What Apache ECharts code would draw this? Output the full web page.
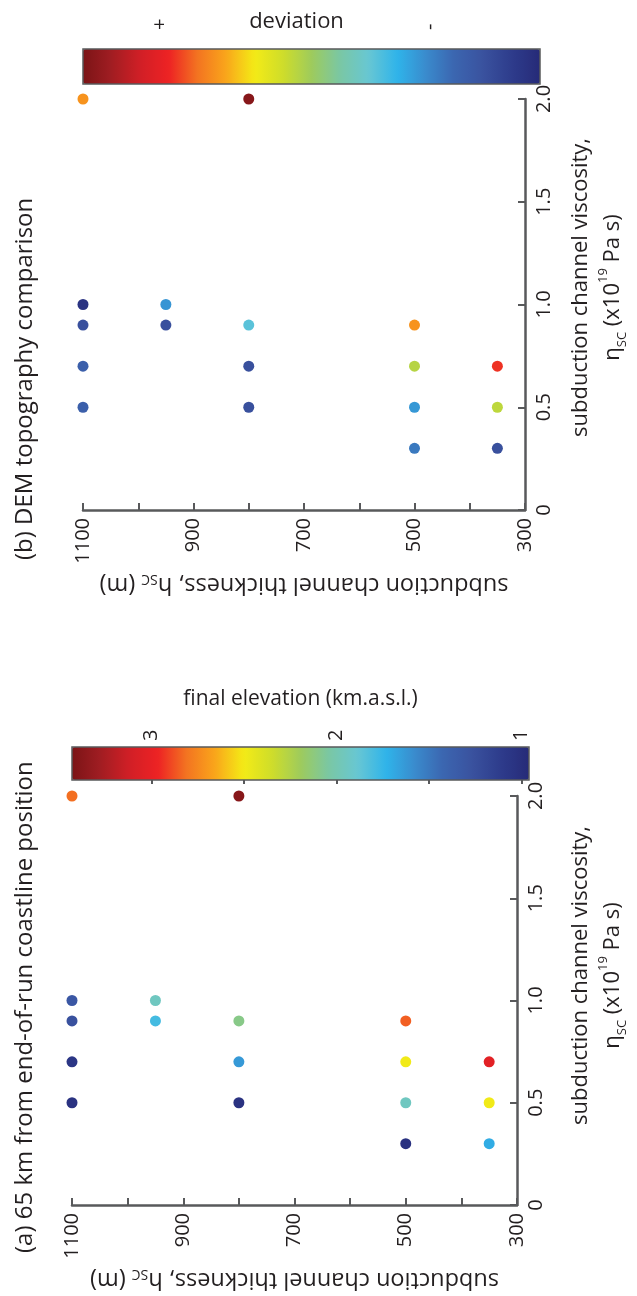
<!DOCTYPE html>
<html><head><meta charset="utf-8">
<script src="https://cdn.jsdelivr.net/npm/echarts@6/dist/echarts.min.js"></script>
<style>html,body{margin:0;padding:0;background:#fff}#c{width:637px;height:1296px}</style>
</head><body><div id="c"></div>
<script>
// ---- data ----
const thickness = [1100,1100,1100,1100,1100, 950,950, 800,800,800,800, 500,500,500,500, 350,350,350];
const viscosity = [0.5,0.7,0.9,1.0,2.0, 0.9,1.0, 0.5,0.7,0.9,2.0, 0.3,0.5,0.7,0.9, 0.3,0.5,0.7];
const elevationA = [1.03,1.06,1.26,1.31,2.82, 1.79,1.95, 1.03,1.63,2.10,3.38, 1.02,1.95,2.49,2.85, 1.70,2.49,3.03];
const deviationB = [16.5,16.5,12,3,71, 12,26.5, 12,12,36,98, 22,27,53,71, 12,54,80];
const thicknessLabels = [300,500,700,900,1100];
const elevationRange = [0.96, 3.43];
const elevationTickMarks = [1,1.5,2,2.5,3];
const elevationTickLabels = [1,2,3];
const deviationRange = [0, 100];
const deviationTickValues = [83, 24];
const deviationTickLabels = ['+', '-'];
const colormap = ['#262a78','#2e3c8c','#3a529f','#3b66b0','#3a8bcd','#2fb4ea','#68c7d3','#7ac7a4','#9ecb5c',
                  '#cfdd2a','#f4eb16','#f9a51b','#f37321','#ed2224','#d11f26','#a11d22','#7b1416'];

const FONT = "'Open Sans', sans-serif";
const TXT = '#231f20';
const AX = '#58595b';
const pts = (t, v, z) => t.map((x, i) => [x, v[i], z[i]]);

function thickAxis(gridIndex, nameGap) {
  return {
    type: 'value', gridIndex, min: 300, max: 1100, interval: 100, inverse: true, position: 'bottom',
    axisLine: { show: true, onZero: false, lineStyle: { color: AX, width: 2.5 } },
    axisTick: { show: true, inside: true, length: 7, lineStyle: { color: AX, width: 2 } },
    axisLabel: { customValues: thicknessLabels, rotate: 90, margin: 8, color: TXT, fontFamily: FONT, fontSize: 20,
      formatter: v => String(v) },
    splitLine: { show: false },
    name: 'subduction channel thickness, h{sub|SC} (m)', nameLocation: 'middle', nameRotate: 180, nameGap,
    nameMoveOverlap: false,
    nameTextStyle: { color: TXT, fontFamily: FONT, fontSize: 23.5, lineHeight: 26,
      rich: { sub: { fontSize: 14, lineHeight: 15, fontFamily: FONT, color: TXT, verticalAlign: 'bottom' } } }
  };
}
function viscAxis(gridIndex, nameGap, shift) {
  return {
    type: 'value', gridIndex, min: 0, max: 2, interval: 0.5, position: 'right',
    axisLine: { show: true, onZero: false, lineStyle: { color: AX, width: 2.5 } },
    axisTick: { show: true, inside: true, length: 7, lineStyle: { color: AX, width: 2 } },
    axisLabel: { rotate: 90, margin: 9, color: TXT, fontFamily: FONT, fontSize: 20,
      formatter: v => v === 0 ? '0' : v.toFixed(1) },
    splitLine: { show: false },
    name: 'subduction channel viscosity,\nη{sub|SC} (x10{sup|19} Pa s)', nameLocation: 'middle', nameRotate: 90, nameGap,
    nameMoveOverlap: false,
    nameTextStyle: { color: TXT, fontFamily: FONT, fontSize: 22, lineHeight: 32, padding: [0, 0, 0, shift],
      rich: { sub: { fontSize: 13, lineHeight: 14, fontFamily: FONT, color: TXT, verticalAlign: 'bottom' },
              sup: { fontSize: 13, lineHeight: 14, fontFamily: FONT, color: TXT, verticalAlign: 'top' } } }
  };
}
const hiddenY = gi => ({ type: 'value', gridIndex: gi, show: false, min: 0, max: 1 });

const option = {
  backgroundColor: '#fff',
  animation: false,
  grid: [
    { left: 83, top: 99, width: 456, height: 411 },
    { left: 83, top: 49, width: 457, height: 35, show: true, borderColor: AX, borderWidth: 1.5, backgroundColor: 'transparent', z: 10 },
    { left: 72, top: 796, width: 456, height: 409 },
    { left: 72, top: 747, width: 457, height: 33, show: true, borderColor: AX, borderWidth: 1.5, backgroundColor: 'transparent', z: 10 }
  ],
  xAxis: [
    thickAxis(0, 62),
    { type: 'value', gridIndex: 1, min: deviationRange[0], max: deviationRange[1], inverse: true, position: 'top', z: 10,
      axisLine: { show: false }, axisTick: { show: false }, splitLine: { show: false },
      axisLabel: { customValues: deviationTickValues, rotate: 90, margin: 19, color: TXT, fontFamily: FONT, fontSize: 20,
        formatter: v => deviationTickLabels[deviationTickValues.indexOf(v)] },
      name: 'deviation', nameLocation: 'middle', nameGap: 16, nameMoveOverlap: false,
      nameTextStyle: { color: TXT, fontFamily: FONT, fontSize: 22, padding: [0, 30, 0, 0] } },
    thickAxis(2, 62),
    { type: 'value', gridIndex: 3, min: elevationRange[0], max: elevationRange[1], inverse: true, position: 'top', z: 10,
      axisLine: { show: false }, splitLine: { show: false },
      axisTick: { show: true, inside: true, length: 4, customValues: elevationTickMarks, lineStyle: { color: AX, width: 2 } },
      axisLabel: { customValues: elevationTickLabels, rotate: 90, margin: 6, color: TXT, fontFamily: FONT, fontSize: 20 },
      name: 'final elevation (km.a.s.l.)', nameLocation: 'middle', nameGap: 37, nameMoveOverlap: false,
      nameTextStyle: { color: TXT, fontFamily: FONT, fontSize: 21 } }
  ],
  yAxis: [ viscAxis(0, 40, 34), hiddenY(1), viscAxis(2, 48, 50), hiddenY(3) ],
  visualMap: [
    { type: 'continuous', seriesIndex: 0, dimension: 2, min: deviationRange[0], max: deviationRange[1],
      orient: 'horizontal', inverse: true, left: 83, top: 49, itemWidth: 35, itemHeight: 457, padding: 0,
      calculable: false, hoverLink: false, inRange: { color: colormap } },
    { type: 'continuous', seriesIndex: 1, dimension: 2, min: elevationRange[0], max: elevationRange[1],
      orient: 'horizontal', inverse: true, left: 72, top: 747, itemWidth: 33, itemHeight: 457, padding: 0,
      calculable: false, hoverLink: false, inRange: { color: colormap } }
  ],
  series: [
    { type: 'scatter', xAxisIndex: 0, yAxisIndex: 0, symbolSize: 11, itemStyle: { opacity: 1 },
      data: pts(thickness, viscosity, deviationB) },
    { type: 'scatter', xAxisIndex: 2, yAxisIndex: 2, symbolSize: 11, itemStyle: { opacity: 1 },
      data: pts(thickness, viscosity, elevationA) }
  ],
  graphic: [
    { type: 'text', x: 25, y: 560, rotation: Math.PI / 2,
      style: { text: '(b) DEM topography comparison', font: "24px 'Open Sans', sans-serif", fill: TXT,
        textAlign: 'left', textVerticalAlign: 'middle', align: 'left', verticalAlign: 'middle' } },
    { type: 'text', x: 25, y: 1253, rotation: Math.PI / 2,
      style: { text: '(a) 65 km from end-of-run coastline position', font: "24px 'Open Sans', sans-serif", fill: TXT,
        textAlign: 'left', textVerticalAlign: 'middle', align: 'left', verticalAlign: 'middle' } }
  ]
};
const chart = echarts.init(document.getElementById('c'), null, { renderer: 'canvas' });
chart.setOption(option);
</script>
</body></html>
